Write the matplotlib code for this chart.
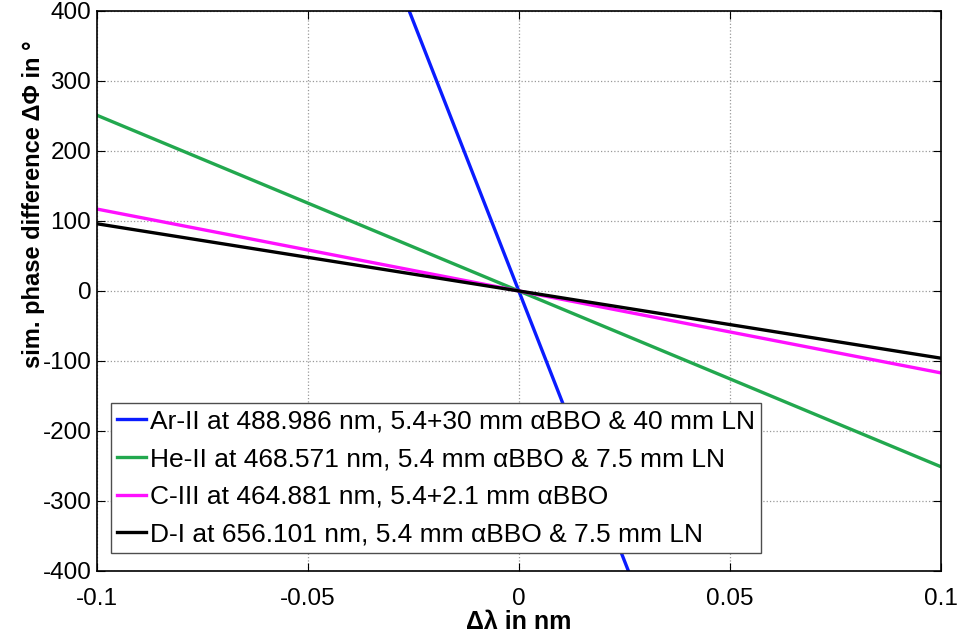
import numpy as np
import matplotlib
matplotlib.use('Agg')
import matplotlib.pyplot as plt

plt.rcParams['font.family'] = ['Liberation Sans', 'DejaVu Sans']
plt.rcParams['axes.unicode_minus'] = False

# wavelength detuning (nm) and simulated phase difference (deg)
dlam = [-0.1, 0.0, 0.1]
ar_ii = [1540, 0, -1540]
he_ii = [251, 0, -251]
c_iii = [117, 0, -117]
d_i = [96, 0, -96]

labels = [
    'Ar-II at 488.986 nm, 5.4+30 mm αBBO & 40 mm LN',
    'He-II at 468.571 nm, 5.4 mm αBBO & 7.5 mm LN',
    'C-III at 464.881 nm, 5.4+2.1 mm αBBO',
    'D-I at 656.101 nm, 5.4 mm αBBO & 7.5 mm LN',
]
colors = ['#0a1cff', '#22a84e', '#ff10ff', '#000000']
xticks = [-0.1, -0.05, 0, 0.05, 0.1]
xticklabels = ['-0.1', '-0.05', '0', '0.05', '0.1']
yticks = [-400, -300, -200, -100, 0, 100, 200, 300, 400]

fig = plt.figure(figsize=(9.59, 6.42), dpi=100)
ax = fig.add_axes([0.101, 0.1106, 0.880, 0.8724])

for y, lab, c in zip([ar_ii, he_ii, c_iii, d_i], labels, colors):
    ax.plot(dlam, y, color=c, lw=2.4, label=lab)

ax.set_xlim(-0.1, 0.1)
ax.set_ylim(-400, 400)
ax.set_xticks(xticks)
ax.set_xticklabels(xticklabels)
ax.set_yticks(yticks)
ax.tick_params(direction='in', length=6, width=0.8, labelsize=17.5,
               top=True, right=True)
ax.tick_params(axis='x', pad=12)
ax.tick_params(axis='y', pad=4)
ax.grid(True, ls=':', color='0.6', lw=0.9)
for sp in ax.spines.values():
    sp.set_linewidth(1.2)

ax.set_xlabel('Δλ in nm', fontsize=18, fontweight='bold', labelpad=0)
ax.set_ylabel('sim. phase difference ΔΦ in °', fontsize=17,
              fontweight='bold')
ax.yaxis.set_label_coords(-0.062, 0.655)

leg = ax.legend(loc='lower left', bbox_to_anchor=(0.0166, 0.032),
                borderaxespad=0, fontsize=19, fancybox=False,
                framealpha=1, edgecolor='0.3', handlelength=1.1,
                handletextpad=0.12, labelspacing=0.52, borderpad=0.25)
leg.get_frame().set_linewidth(1.0)

fig.savefig('out.png', dpi=100)
